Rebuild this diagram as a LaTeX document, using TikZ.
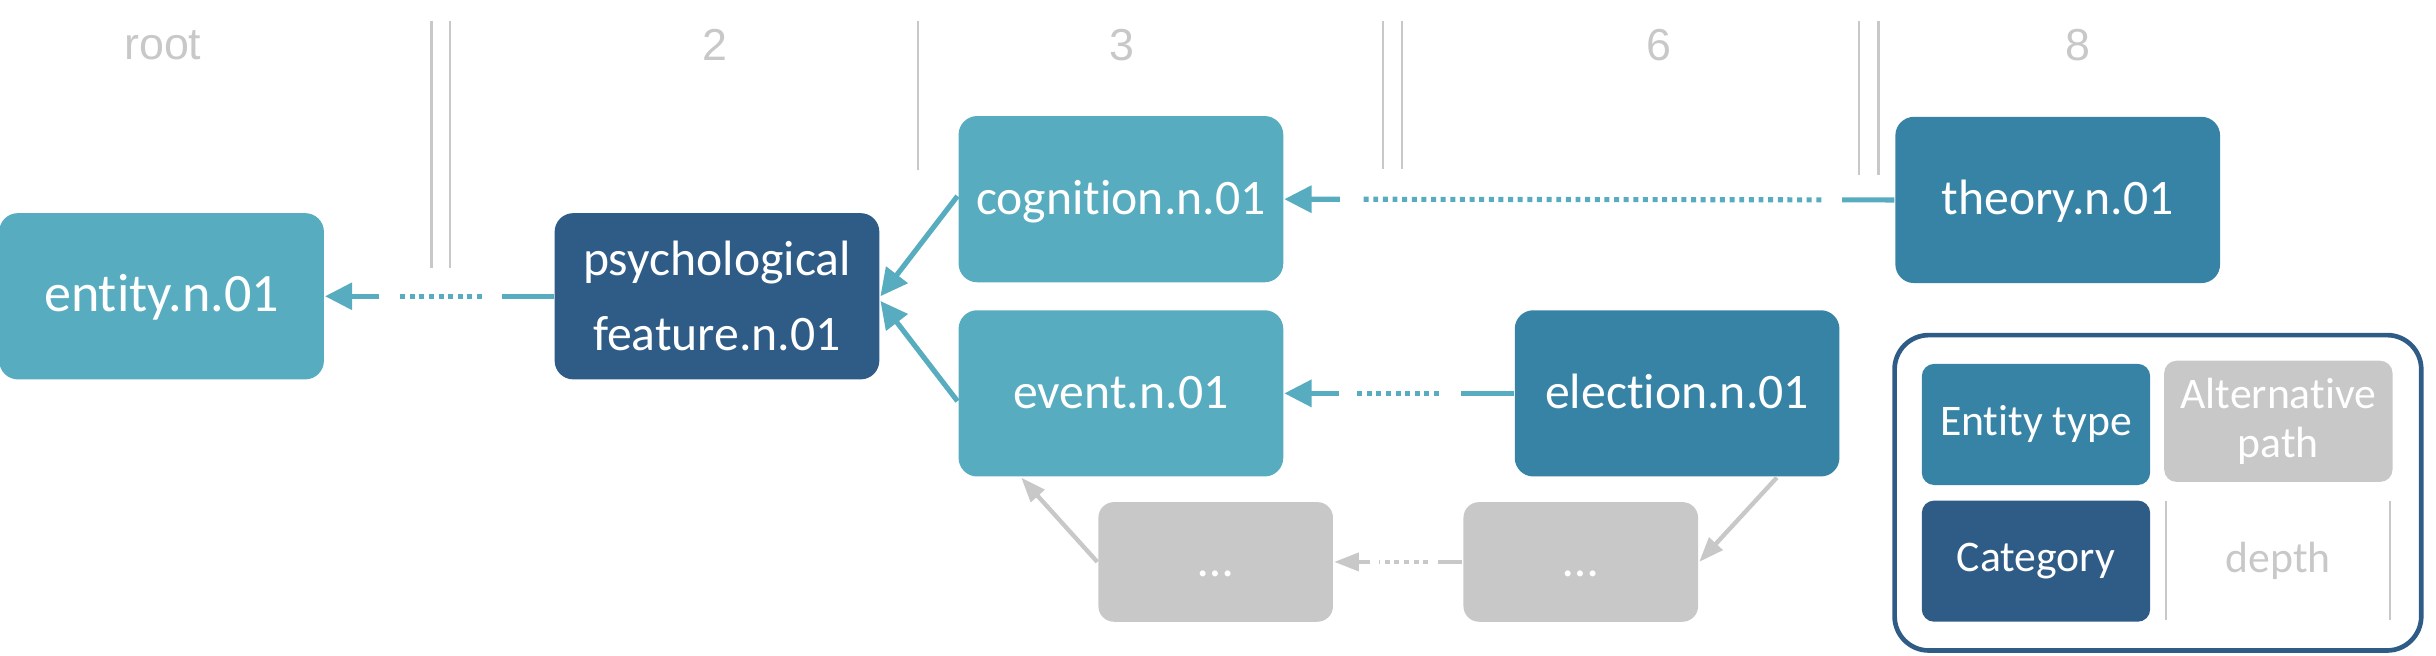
\documentclass[tikz,border=0pt]{standalone}
\usepackage{fontspec}
\setmainfont{Carlito}[Ligatures=NoCommon]
\newfontfamily\headfont{Liberation Sans}
\usetikzlibrary{calc,arrows.meta}

\definecolor{tealbox}{HTML}{58ACBF}
\definecolor{bluebox}{HTML}{3783A6}
\definecolor{darkbox}{HTML}{2E5C87}
\definecolor{greybox}{HTML}{C8C8C8}

\begin{document}
\begin{tikzpicture}[
  box/.style={rounded corners=0.12cm, inner sep=0pt, minimum width=2.09cm, minimum height=1.07cm,
    text=white, font=\fontsize{9.1}{13.7}\selectfont},
  onebox/.style={box, text height=0.75em, text depth=0.2em},
  altbox/.style={rounded corners=0.1cm, inner sep=0pt, minimum width=1.51cm, minimum height=0.77cm,
    fill=greybox, text=white, font=\fontsize{9.1}{11}\selectfont, text height=0.75em, text depth=0.2em},
  legendbox/.style={rounded corners=0.08cm, inner sep=0pt, minimum width=1.47cm, minimum height=0.78cm,
    text=white, font=\fontsize{8}{9.1}\selectfont, align=center},
  depthlabel/.style={text=greybox, font=\headfont\fontsize{8.2}{10}\selectfont},
  rule/.style={draw=greybox, line width=0.015cm},
  tealline/.style={draw=tealbox, line width=0.033cm},
  greyline/.style={draw=greybox, line width=0.028cm},
  dotrun/.style={dash pattern=on 0.032cm off 0.03cm},
  headtip/.style={-{Triangle[length=0.175cm,width=0.17cm]}},
  greyhead/.style={-{Triangle[length=0.16cm,width=0.115cm]}}
]
  \useasboundingbox (0,0) rectangle (15.68,4.222);

  % depth labels and column rules
  \node[depthlabel] (droot) at (1.048, 3.93) {root};
  \node[depthlabel] (dtwo) at (4.605, 3.93) {2};
  \node[depthlabel] (dthree) at (7.22, 3.93) {3};
  \node[depthlabel] (dsix) at (10.68, 3.93) {6};
  \node[depthlabel] (deight) at (13.375, 3.93) {8};
  \draw[rule] (2.778, 4.085) -- (2.778, 2.50);
  \draw[rule] (2.898, 4.085) -- (2.898, 2.50);
  \draw[rule] (5.91, 4.085) -- (5.91, 3.13);
  \draw[rule] (8.90, 4.085) -- (8.90, 3.136);
  \draw[rule] (9.025, 4.085) -- (9.025, 3.136);
  \draw[rule] (11.964, 4.085) -- (11.964, 3.093);
  \draw[rule] (12.092, 4.085) -- (12.092, 3.093);

  % synsets
  \node[onebox, fill=tealbox, font=\fontsize{9.9}{13.7}\selectfont] (entity) at (1.04, 2.315) {entity.n.01};
  \node[box, fill=darkbox, align=center] (psych) at (4.615, 2.315) {psychological\\feature.n.01};
  \node[onebox, fill=tealbox] (cognition) at (7.215, 2.94) {cognition.n.01};
  \node[onebox, fill=tealbox] (event) at (7.215, 1.69) {event.n.01};
  \node[onebox, fill=bluebox] (theory) at (13.245, 2.935) {theory.n.01};
  \node[onebox, fill=bluebox] (election) at (10.795, 1.69) {election.n.01};
  \node[altbox] (altleft) at (7.825, 0.605) {…};
  \node[altbox] (altright) at (10.175, 0.605) {…};

  % direct hypernym links
  \draw[tealline, headtip] ([yshift=0.02cm]cognition.west) -- (psych.east);
  \draw[tealline, headtip] ([yshift=-0.05cm]event.west) -- ([yshift=-0.03cm]psych.east);
  \draw[greyline, greyhead] (altleft.west) -- ([xshift=0.41cm]event.south west);
  \draw[greyline, greyhead] ([xshift=-0.41cm]election.south east) -- (altright.east);

  % elided paths
  \draw[tealline] (psych.west) -- ($(psych.west)!0.33cm!(entity.east)$);
  \draw[tealline, dotrun] ($(psych.west)!0.46cm!(entity.east)$) -- ($(entity.east)!0.47cm!(psych.west)$);
  \draw[tealline, headtip] ($(entity.east)!0.35cm!(psych.west)$) -- (entity.east);

  \draw[tealline] (theory.west) -- ($(theory.west)!0.336cm!(cognition.east)$);
  \draw[tealline, dotrun] ($(theory.west)!0.47cm!(cognition.east)$) -- ($(cognition.east)!0.498cm!(theory.west)$);
  \draw[tealline, headtip] ($(cognition.east)!0.357cm!(theory.west)$) -- (cognition.east);

  \draw[tealline] (election.west) -- ($(election.west)!0.34cm!(event.east)$);
  \draw[tealline, dotrun] ($(election.west)!0.48cm!(event.east)$) -- ($(event.east)!0.455cm!(election.west)$);
  \draw[tealline, headtip] ($(event.east)!0.35cm!(election.west)$) -- (event.east);

  \draw[greyline] (altright.west) -- ($(altright.west)!0.16cm!(altleft.east)$);
  \draw[greyline, dotrun] ($(altright.west)!0.22cm!(altleft.east)$) -- ($(altleft.east)!0.29cm!(altright.west)$);
  \draw[greyline, greyhead] ($(altleft.east)!0.23cm!(altright.west)$) -- (altleft.east);

  % legend
  \draw[draw=darkbox, line width=0.03cm, rounded corners=0.22cm] (12.195, 0.035) rectangle (15.585, 2.065);
  \node[legendbox, fill=bluebox] (ktype) at (13.105, 1.49) {Entity type};
  \node[legendbox, fill=greybox] (kalt) at (14.665, 1.51) {Alternative\\path};
  \node[legendbox, fill=darkbox] (kcat) at (13.105, 0.61) {Category};
  \node[text=greybox, font=\fontsize{8}{9.1}\selectfont] (kdepth) at (14.665, 0.61) {depth};
  \draw[rule] (13.94, 1.00) -- (13.94, 0.23);
  \draw[rule] (15.385, 1.00) -- (15.385, 0.23);
\end{tikzpicture}
\end{document}
